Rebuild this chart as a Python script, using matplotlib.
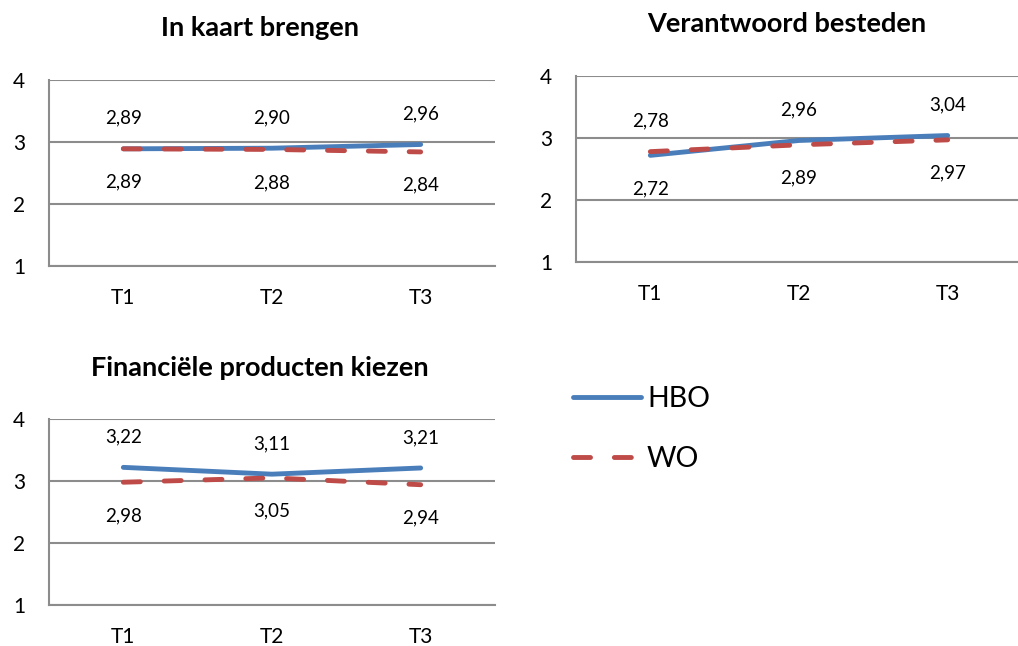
from matplotlib import pyplot as plt

plt.rcParams['font.family'] = ['Lato', 'DejaVu Sans']

periods = ['T1', 'T2', 'T3']
titles = ['In kaart brengen', 'Verantwoord besteden', 'Financiële producten kiezen']
hbo = [
    [2.89, 2.90, 2.96],
    [2.72, 2.96, 3.04],
    [3.22, 3.11, 3.21],
]
wo = [
    [2.89, 2.88, 2.84],
    [2.78, 2.89, 2.97],
    [2.98, 3.05, 2.94],
]

HBO_COLOR = '#4A7EBB'
WO_COLOR = '#BE4B48'
GRID = '#8C8C8C'

W, H = 1018, 646
fig = plt.figure(figsize=(W / 100, H / 100), dpi=100)

# axes boxes in pixels: left, top, width, height
boxes = [(49, 80, 446, 186), (576, 76, 446, 186), (49, 419, 446, 186)]
title_pos = [(260, 28), (787, 24), (260, 368)]


def fmt(v):
    return f'{v:.2f}'.replace('.', ',')


axes = []
for i, (l, t, w, h) in enumerate(boxes):
    ax = fig.add_axes([l / W, 1 - (t + h) / H, w / W, h / H])
    axes.append(ax)
    x = list(range(len(periods)))
    ax.plot(x, hbo[i], color=HBO_COLOR, lw=3.5, solid_capstyle='round', label='HBO', zorder=3)
    wl, = ax.plot(x, wo[i], color=WO_COLOR, lw=3.5, dash_capstyle='round', label='WO', zorder=4)
    wl.set_dashes((3.5, 4.9))
    ax.set_xlim(-0.5, 2.5)
    ax.set_ylim(1, 4)
    ax.set_yticks([1, 2, 3, 4])
    ax.set_xticks(x)
    ax.set_xticklabels(periods)
    ax.tick_params(length=0, labelsize=15)
    ax.tick_params(axis='y', pad=17)
    ax.tick_params(axis='x', pad=16)
    ax.grid(axis='y', color=GRID, lw=1.5)
    ax.set_axisbelow(True)
    for s in ['top', 'right']:
        ax.spines[s].set_visible(False)
    for s in ['left', 'bottom']:
        ax.spines[s].set_color(GRID)
        ax.spines[s].set_linewidth(1.5)

    # value labels: higher series above the lines, lower one below
    for j in x:
        hv, wv = hbo[i][j], wo[i][j]
        up_h = hv >= wv
        for v, up in ((hv, up_h), (wv, not up_h)):
            ax.annotate(fmt(v), (j, v), xytext=(0, 22 if up else -24),
                        textcoords='offset points', ha='center', va='center',
                        fontsize=13.5)

    tx, ty = title_pos[i]
    fig.text(tx / W, 1 - ty / H, titles[i], ha='center', va='center',
             fontsize=19.5, fontweight='bold')

handles, labels = axes[0].get_legend_handles_labels()
fig.legend(handles, labels, loc='upper left', bbox_to_anchor=(573 / W, 1 - 386 / H),
           frameon=False, fontsize=20.5, handlelength=2.4, handletextpad=0.2,
           labelspacing=1.2, borderaxespad=0, borderpad=0)

fig.savefig('out.png', dpi=100)
